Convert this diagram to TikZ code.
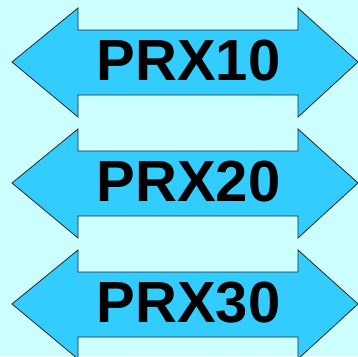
\documentclass[tikz,border=0pt]{standalone}
\usepackage{fontspec}
\setmainfont{Liberation Sans}
\definecolor{bgcyan}{HTML}{CCFFFF}
\definecolor{arrowblue}{HTML}{33CCFF}
\tikzset{
  dblarrow/.style={fill=arrowblue, draw=black!85, line width=0.8pt, line join=miter},
  lbl/.style={anchor=base, inner sep=0pt, font=\fontsize{58}{58}\selectfont\bfseries}
}
\begin{document}
\begin{tikzpicture}[x=1pt,y=-1pt]
  \fill[bgcyan] (0,0) rectangle (358,356);
  \useasboundingbox (0,0) rectangle (358,356);
  \foreach \o/\txt/\nm in {0/PRX10/t1, 121/PRX20/t2, 242/PRX30/t3}{
    \draw[dblarrow] (12,62+\o) -- (78,8+\o) -- (78,30+\o) -- (298,30+\o)
      -- (298,8+\o) -- (358,62+\o) -- (298,117+\o) -- (298,95+\o)
      -- (78,95+\o) -- (78,117+\o) -- cycle;
    \node[lbl] (\nm) at (188.5,80+\o) {\txt};
  }
\end{tikzpicture}
\end{document}
